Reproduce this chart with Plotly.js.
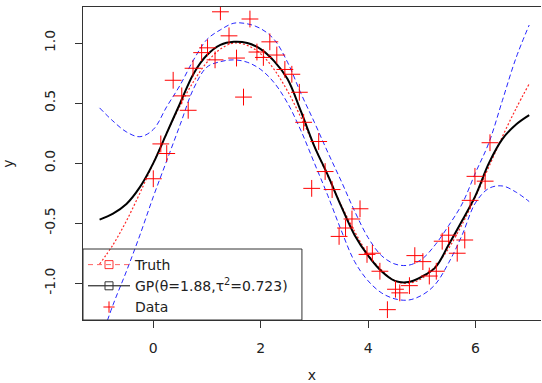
<!DOCTYPE html>
<html><head><meta charset="utf-8">
<script src="https://cdn.plot.ly/plotly-3.0.1.min.js"></script>
<style>html,body{margin:0;padding:0;background:#fff;}#chart{width:542px;height:383px;}</style>
</head><body><div id="chart"></div>
<script>
// x grid for the curves
const gridX = [-1, -0.75, -0.5, -0.25, 0, 0.25, 0.5, 0.75, 1, 1.25, 1.5, 1.75, 2, 2.25, 2.5, 2.75, 3,
  3.25, 3.5, 3.75, 4, 4.25, 4.5, 4.75, 5, 5.25, 5.5, 5.75, 6, 6.25, 6.5, 6.75, 7];
const truthY = [-0.84, -0.68, -0.48, -0.25, 0.00, 0.25, 0.48, 0.68, 0.84, 0.95, 1.00, 0.98, 0.91, 0.78, 0.60, 0.38, 0.14,
  -0.11, -0.35, -0.57, -0.76, -0.89, -0.98, -1.00, -0.96, -0.86, -0.71, -0.51, -0.28, -0.03, 0.22, 0.45, 0.66];
const gpMean = [-0.47, -0.42, -0.34, -0.20, 0.00, 0.25, 0.50, 0.745, 0.90, 0.985, 1.01, 1.00, 0.95, 0.85, 0.70, 0.43, 0.14,
  -0.10, -0.36, -0.60, -0.77, -0.90, -0.98, -0.99, -0.945, -0.87, -0.68, -0.48, -0.27, 0.00, 0.20, 0.32, 0.40];
const gpUpper = [0.46, 0.35, 0.26, 0.22, 0.28, 0.47, 0.65, 0.86, 1.03, 1.11, 1.165, 1.16, 1.12, 1.03, 0.84, 0.58, 0.34,
  0.09, -0.15, -0.40, -0.62, -0.77, -0.84, -0.85, -0.80, -0.68, -0.52, -0.34, -0.08, 0.17, 0.52, 0.87, 1.15];
const gpLower = [-1.50, -1.18, -0.90, -0.60, -0.28, 0.02, 0.32, 0.62, 0.80, 0.845, 0.86, 0.84, 0.78, 0.67, 0.50, 0.27, 0.00,
  -0.27, -0.56, -0.82, -0.98, -1.08, -1.13, -1.14, -1.10, -1.01, -0.83, -0.60, -0.33, -0.21, -0.19, -0.24, -0.32];
// observed data
const dataX = [0.00, 0.14, 0.25, 0.37, 0.53, 0.65, 0.74, 0.90, 1.01, 1.15, 1.25, 1.41, 1.55, 1.68, 1.80, 1.93, 2.05,
  2.17, 2.30, 2.45, 2.58, 2.72, 2.80, 2.95, 3.08, 3.20, 3.33, 3.46, 3.58, 3.70, 3.85, 3.98, 4.08, 4.22, 4.36, 4.51,
  4.59, 4.77, 4.87, 5.02, 5.14, 5.27, 5.38, 5.50, 5.66, 5.80, 5.90, 5.99, 6.18, 6.27];
const dataY = [-0.13, 0.16, 0.08, 0.69, 0.56, 0.44, 0.79, 0.92, 0.96, 0.86, 1.26, 1.06, 0.875, 0.55, 1.20, 0.925, 0.88,
  1.01, 0.90, 0.78, 0.74, 0.59, 0.34, -0.21, 0.18, -0.07, -0.22, -0.61, -0.54, -0.465, -0.38, -0.76, -0.75, -0.90, -1.22, -1.05,
  -1.08, -1.02, -0.77, -0.82, -0.94, -0.90, -0.65, -0.60, -0.75, -0.64, -0.31, -0.11, -0.15, 0.17];
const xTickVals = [0, 2, 4, 6];
const yTickVals = [-1, -0.5, 0, 0.5, 1];
const yTickText = ['-1.0', '-0.5', '0.0', '0.5', '1.0'];
const legendNames = ['Truth', 'GP(\u03b8=1.88,\u03c4<sup>2</sup>=0.723)', 'Data'];

const FONT = 'DejaVu Sans, sans-serif';
const traces = [
  {x: gridX, y: gpUpper, mode: 'lines', line: {color: 'rgba(0,0,255,0.85)', width: 1, dash: '5px,3px', shape: 'spline'}, showlegend: false, hoverinfo: 'skip'},
  {x: gridX, y: gpLower, mode: 'lines', line: {color: 'rgba(0,0,255,0.85)', width: 1, dash: '5px,3px', shape: 'spline'}, showlegend: false, hoverinfo: 'skip'},
  {x: gridX, y: truthY, mode: 'lines', line: {color: 'rgba(255,0,0,0.85)', width: 1.2, dash: '2px,2px', shape: 'spline'}, showlegend: false},
  {x: gridX, y: gpMean, mode: 'lines', line: {color: '#000', width: 2, shape: 'spline'}, showlegend: false},
  {x: dataX, y: dataY, mode: 'markers', marker: {symbol: 'cross-thin-open', size: 12, color: '#ff0000', line: {color: '#ff0000', width: 1}}, showlegend: false},
  // legend entries
  {x: [null], y: [null], name: legendNames[0], mode: 'lines+markers', line: {color: 'rgba(255,60,60,0.8)', width: 1, dash: '5px,4px'}, marker: {symbol: 'square-open', size: 8, color: 'rgba(255,0,0,0.8)', line: {width: 1}}},
  {x: [null], y: [null], name: legendNames[1], mode: 'lines+markers', line: {color: '#000', width: 1}, marker: {symbol: 'square-open', size: 8, color: '#333', line: {width: 1}}},
  {x: [null], y: [null], name: legendNames[2], mode: 'markers', marker: {symbol: 'cross-thin-open', size: 8, color: '#ff0000', line: {color: '#ff0000', width: 1}}}
];

const axisCommon = {
  showgrid: false, zeroline: false, showline: true, linecolor: '#333', linewidth: 1,
  ticks: 'outside', ticklen: 7, tickwidth: 1, tickcolor: '#333',
  tickfont: {family: FONT, size: 14, color: '#222'}
};

const layout = {
  width: 542, height: 383,
  margin: {l: 83, r: 1, t: 7, b: 63},
  paper_bgcolor: '#fff', plot_bgcolor: '#fff',
  font: {family: FONT, size: 14, color: '#222'},
  xaxis: Object.assign({}, axisCommon, {
    range: [-1.309, 7.220], tickvals: xTickVals, mirror: true, ticklabelstandoff: 8,
    title: {text: 'x', standoff: 20, font: {family: FONT, size: 14, color: '#222'}}
  }),
  yaxis: Object.assign({}, axisCommon, {
    range: [-1.306, 1.300], tickvals: yTickVals, ticktext: yTickText, tickangle: -90, ticklabelstandoff: 14,
    title: {text: 'y', standoff: 26, font: {family: FONT, size: 14, color: '#222'}}
  }),
  legend: {x: 0, y: 0.2268, xanchor: 'left', yanchor: 'top', bgcolor: 'rgba(0,0,0,0)', borderwidth: 0,
    font: {family: FONT, size: 14, color: '#222'}, tracegroupgap: 0, itemwidth: 42},
  shapes: [
    {type: 'rect', xref: 'paper', yref: 'paper', x0: 0, x1: 0.478, y0: 0, y1: 0.2268, line: {color: '#333', width: 1}}
  ],
  showlegend: true
};

Plotly.newPlot('chart', traces, layout, {staticPlot: true, displayModeBar: false});
</script></body></html>
